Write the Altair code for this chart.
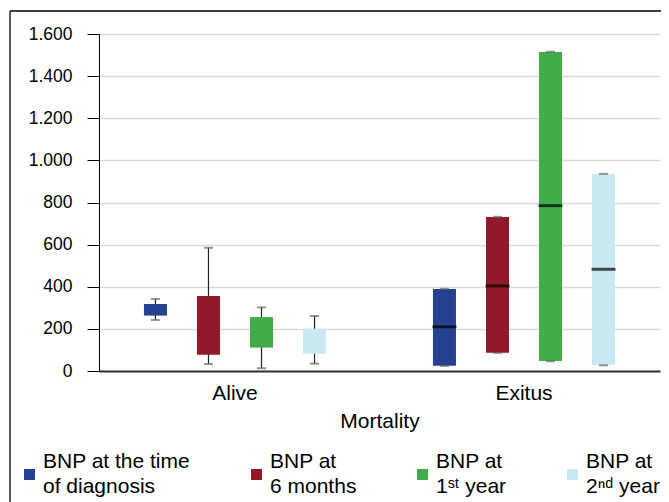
import altair as alt
import pandas as pd

groups = ["Alive", "Alive", "Alive", "Alive", "Exitus", "Exitus", "Exitus", "Exitus"]
series_names = ["BNP at the time|of diagnosis", "BNP at|6 months", "BNP at|1ˢᵗ year", "BNP at|2ⁿᵈ year"]
series = series_names * 2
whisker_low = [242, 33, 13, 35, 24, 86, 46, 27]
box_q1 = [263, 77, 111, 82, 25, 87, 47, 28]
median = [None, None, None, None, 210, 404, 785, 483]
box_q3 = [318, 356, 256, 201, 389, 731, 1515, 935]
whisker_high = [342, 585, 302, 261, 390, 732, 1516, 936]
colors = ["#25418f", "#901a29", "#41ad4a", "#c9e9f2"]

df = pd.DataFrame({
    "group": groups, "series": series, "lo": whisker_low, "q1": box_q1,
    "med": median, "q3": box_q3, "hi": whisker_high,
})

FONT = "Liberation Sans"

x = alt.X("group:N", sort=["Alive", "Exitus"],
          scale=alt.Scale(paddingInner=0.2, paddingOuter=0.0705),
          axis=alt.Axis(ticks=False, domainColor="#333333", domainWidth=2,
                        labelFontSize=21, labelPadding=11, labelAngle=0, labelColor="black",
                        labelFont=FONT, title="Mortality", titleFontSize=21,
                        titleFontWeight="normal", titleFont=FONT, titlePadding=7,
                        titleColor="black", grid=False))
xo = alt.XOffset("series:N", sort=series_names,
                 scale=alt.Scale(domain=series_names, paddingInner=0, paddingOuter=0.18))
yscale = alt.Scale(domain=[0, 1600], nice=False)
yaxis = alt.Axis(values=list(range(0, 1601, 200)),
                 labelExpr="replace(format(datum.value, ','), ',', '.')",
                 tickSize=12, tickColor="black", tickWidth=1, domainColor="black", domainWidth=1,
                 gridColor="#d9d9d9", gridWidth=1.5, labelFontSize=17.5, labelPadding=15,
                 labelFont=FONT, labelColor="black", title=None)

base = alt.Chart(df)

whiskers = base.mark_rule(color="#222222", strokeWidth=1.2).encode(
    x=x, xOffset=xo,
    y=alt.Y("lo:Q", scale=yscale, axis=yaxis), y2="hi:Q")

boxes = base.mark_bar(width=23).encode(
    x=x, xOffset=xo,
    y=alt.Y("q1:Q", scale=yscale, axis=yaxis), y2="q3:Q",
    color=alt.Color("series:N", sort=series_names,
                    scale=alt.Scale(domain=series_names, range=colors),
                    legend=alt.Legend(title=None, orient="none", legendX=-80, legendY=417.5,
                                      direction="horizontal", gridAlign="none",
                                      columnPadding=55, symbolType="M-1,1.27H1V3.27H-1Z",
                                      symbolSize=121,
                                      symbolStrokeWidth=0, labelOffset=3, labelFontSize=21,
                                      labelFont=FONT, labelColor="black", labelLimit=300,
                                      labelExpr="split(datum.label, '|')", padding=0)))

caps_lo = base.mark_tick(color="#666666", size=9, thickness=2).encode(
    x=x, xOffset=xo, y=alt.Y("lo:Q", scale=yscale, axis=yaxis))
caps_hi = base.mark_tick(color="#666666", size=9, thickness=2).encode(
    x=x, xOffset=xo, y=alt.Y("hi:Q", scale=yscale, axis=yaxis))
medians = base.transform_filter("isValid(datum.med)").mark_tick(
    color="black", size=24, thickness=3).encode(
    x=x, xOffset=xo, y=alt.Y("med:Q", scale=yscale, axis=yaxis))

frame_df = pd.DataFrame({"a": [0]})
frame_top = alt.Chart(frame_df).mark_rule(color="black", strokeWidth=1.3).encode(
    x=alt.value(-89), x2=alt.value(700), y=alt.value(-23))
frame_left = alt.Chart(frame_df).mark_rule(color="black", strokeWidth=1.3).encode(
    x=alt.value(-89), y=alt.value(-23), y2=alt.value(600))

chart = alt.layer(whiskers, boxes, caps_lo, caps_hi, medians, frame_top, frame_left).properties(
    width=561, height=337,
    autosize=alt.AutoSizeParams(type="none"),
    padding={"left": 91, "top": 26, "right": 1, "bottom": 131},
).configure(
    font=FONT,
    style={"guide-label": {"lineHeight": 25}},
).configure_view(strokeWidth=0)

chart.save("out.html", embed_options={"renderer": "svg", "actions": False})
